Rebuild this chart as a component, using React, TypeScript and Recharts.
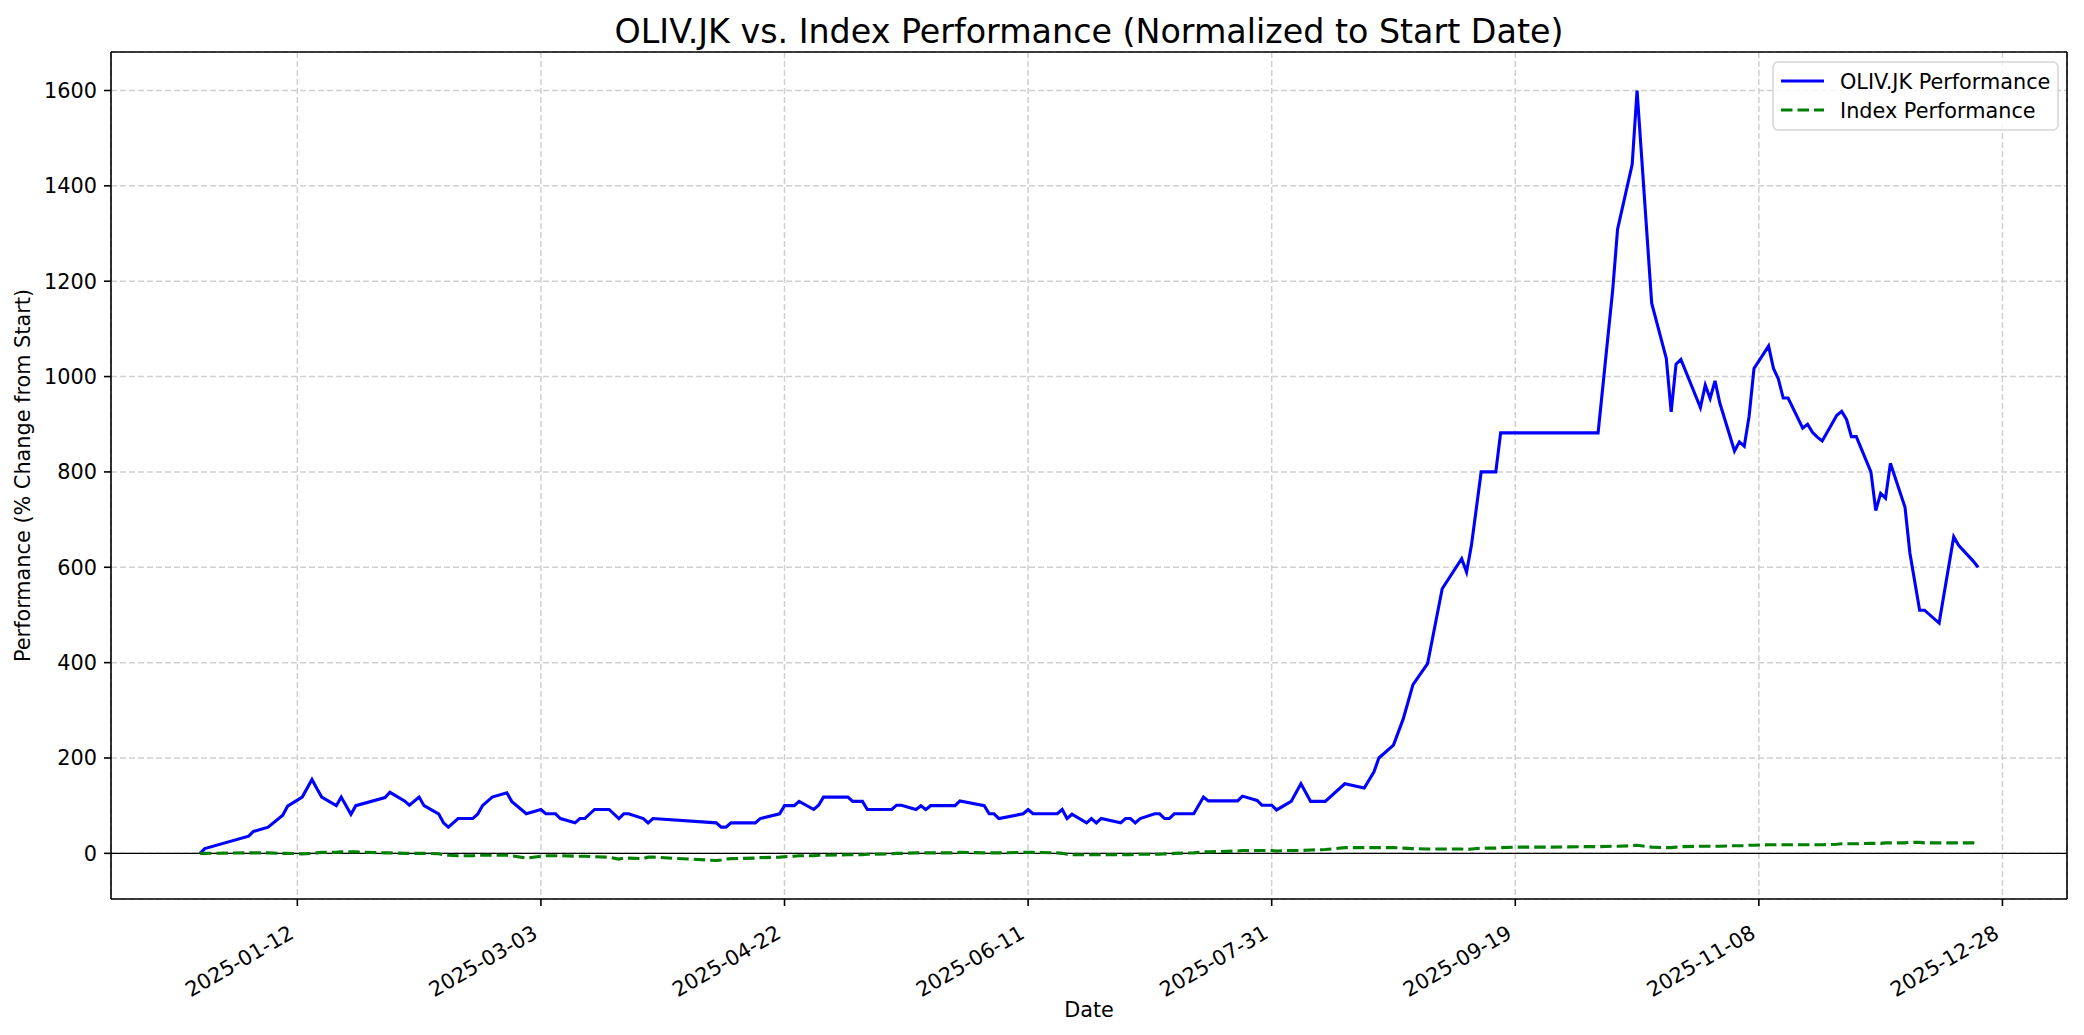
import { LineChart, Line, XAxis, YAxis, CartesianGrid, ReferenceLine } from "recharts";

const dates = [
  "2024-12-23", "2024-12-24", "2025-01-02", "2025-01-03", "2025-01-06", "2025-01-09", "2025-01-10",
  "2025-01-13", "2025-01-15", "2025-01-16", "2025-01-17", "2025-01-20", "2025-01-21", "2025-01-23",
  "2025-01-24", "2025-01-30", "2025-01-31", "2025-02-03", "2025-02-04", "2025-02-06", "2025-02-07",
  "2025-02-10", "2025-02-11", "2025-02-12", "2025-02-14", "2025-02-17", "2025-02-18", "2025-02-19",
  "2025-02-21", "2025-02-24", "2025-02-25", "2025-02-28", "2025-03-03", "2025-03-04", "2025-03-06",
  "2025-03-07", "2025-03-10", "2025-03-11", "2025-03-12", "2025-03-14", "2025-03-17", "2025-03-19",
  "2025-03-20", "2025-03-21", "2025-03-24", "2025-03-25", "2025-03-26", "2025-04-08", "2025-04-09",
  "2025-04-10", "2025-04-11", "2025-04-16", "2025-04-17", "2025-04-21", "2025-04-22", "2025-04-24",
  "2025-04-25", "2025-04-28", "2025-04-29", "2025-04-30", "2025-05-05", "2025-05-06", "2025-05-08",
  "2025-05-09", "2025-05-14", "2025-05-15", "2025-05-16", "2025-05-19", "2025-05-20", "2025-05-21",
  "2025-05-22", "2025-05-27", "2025-05-28", "2025-06-02", "2025-06-03", "2025-06-04", "2025-06-05",
  "2025-06-10", "2025-06-11", "2025-06-12", "2025-06-17", "2025-06-18", "2025-06-19", "2025-06-20",
  "2025-06-23", "2025-06-24", "2025-06-25", "2025-06-26", "2025-06-30", "2025-07-01", "2025-07-02",
  "2025-07-03", "2025-07-04", "2025-07-07", "2025-07-08", "2025-07-09", "2025-07-10", "2025-07-11",
  "2025-07-15", "2025-07-17", "2025-07-18", "2025-07-24", "2025-07-25", "2025-07-28", "2025-07-29",
  "2025-07-31", "2025-08-01", "2025-08-04", "2025-08-06", "2025-08-08", "2025-08-11", "2025-08-15",
  "2025-08-19", "2025-08-21", "2025-08-22", "2025-08-25", "2025-08-27", "2025-08-29", "2025-09-01",
  "2025-09-02", "2025-09-04", "2025-09-08", "2025-09-09", "2025-09-10", "2025-09-12", "2025-09-15",
  "2025-09-16", "2025-09-19", "2025-09-26", "2025-10-03", "2025-10-06", "2025-10-09", "2025-10-10",
  "2025-10-13", "2025-10-14", "2025-10-17", "2025-10-20", "2025-10-21", "2025-10-22", "2025-10-23",
  "2025-10-27", "2025-10-28", "2025-10-29", "2025-10-30", "2025-10-31", "2025-11-03", "2025-11-04",
  "2025-11-05", "2025-11-06", "2025-11-07", "2025-11-10", "2025-11-11", "2025-11-12", "2025-11-13",
  "2025-11-14", "2025-11-17", "2025-11-18", "2025-11-19", "2025-11-20", "2025-11-21", "2025-11-24",
  "2025-11-25", "2025-11-26", "2025-11-27", "2025-11-28", "2025-12-01", "2025-12-02", "2025-12-03",
  "2025-12-04", "2025-12-05", "2025-12-08", "2025-12-09", "2025-12-11", "2025-12-12", "2025-12-15",
  "2025-12-18", "2025-12-19", "2025-12-22", "2025-12-23",
];

const olivPerf = [
  0, 10, 36, 46, 55, 80, 99,
  118, 155, 136, 118, 100, 118, 82,
  100, 117, 128, 110, 101, 118, 100,
  83, 64, 55, 73, 73, 82, 100,
  118, 127, 109, 83, 92, 83, 83,
  73, 64, 73, 73, 92, 92, 73,
  83, 83, 73, 64, 73, 64, 55,
  55, 64, 64, 73, 83, 100, 100,
  109, 92, 101, 118, 118, 109, 109,
  92, 92, 101, 101, 92, 100, 92,
  100, 100, 110, 100, 83, 83, 73,
  83, 92, 83, 83, 92, 73, 82,
  64, 73, 64, 73, 64, 73, 73,
  64, 73, 83, 83, 73, 73, 83,
  83, 118, 110, 110, 120, 111, 101,
  101, 91, 109, 146, 109, 109, 146,
  137, 171, 200, 227, 282, 354, 398,
  450, 555, 618, 590, 646, 800, 800,
  882, 882, 882, 882, 882, 1182, 1309,
  1445, 1600, 1154, 1038, 926, 1026, 1036,
  935, 982, 954, 991, 944, 844, 863,
  854, 917, 1017, 1064, 1017, 995, 955,
  955, 892, 900, 883, 873, 865, 919,
  927, 910, 874, 874, 800, 719, 755,
  745, 818, 726, 630, 510, 510, 483,
  664, 646, 613, 600,
];

const indexPerf = [
  0, 0, 1, 1, 1, 0, 0,
  -1, 0, 1, 2, 2, 3, 3,
  3, 1, 1, 0, 0, 0, 0,
  -1, -3, -4, -5, -5, -4, -4,
  -4, -4, -5, -10, -6, -5, -5,
  -5, -6, -6, -6, -7, -8, -12,
  -10, -10, -11, -8, -8, -15, -14,
  -12, -11, -10, -9, -8, -7, -6,
  -5, -5, -4, -4, -3, -3, -3,
  -2, -1, 0, 0, 1, 1, 1,
  1, 1, 2, 1, 1, 1, 1,
  2, 2, 2, 1, 0, -2, -3,
  -3, -3, -3, -3, -3, -3, -3,
  -2, -2, -2, -2, -1, -1, 0,
  1, 3, 3, 5, 6, 6, 6,
  6, 5, 6, 6, 7, 8, 12,
  12, 12, 12, 12, 11, 10, 9,
  9, 9, 9, 8, 9, 11, 11,
  12, 13, 13, 14, 14, 15, 15,
  16, 17, 13, 12, 12, 13, 14,
  15, 15, 15, 15, 15, 16, 16,
  16, 17, 17, 18, 18, 18, 18,
  18, 18, 18, 18, 18, 18, 19,
  20, 20, 20, 20, 21, 21, 21,
  22, 22, 22, 23, 23, 22, 22,
  22, 22, 22, 22,
];

const xTickDates = ["2025-01-12", "2025-03-03", "2025-04-22", "2025-06-11", "2025-07-31", "2025-09-19", "2025-11-08", "2025-12-28"];
const yTicks = [0, 200, 400, 600, 800, 1000, 1200, 1400, 1600];

const FONT = "DejaVu Sans, Verdana, sans-serif";
const BASE = Date.UTC(2025, 0, 12);
const DAY = 86400000;
const toDay = (s: string) => {
  const [y, m, d] = s.split("-").map(Number);
  return (Date.UTC(y, m - 1, d) - BASE) / DAY;
};
const fmtDay = (v: number) => new Date(BASE + Math.round(v) * DAY).toISOString().slice(0, 10);

const data = dates.map((s, i) => ({ d: toDay(s), oliv: olivPerf[i], index: indexPerf[i] }));
const xTicks = xTickDates.map(toDay);

const X_MIN = -38.25;
const X_MAX = 363.25;
const Y_MIN = -95.75;
const Y_MAX = 1680.75;

const XTick = ({ x, y, payload }: any) => {
  const bx = x - 2;
  const by = y + 29;
  return (
    <text x={bx} y={by} transform={`rotate(-30, ${bx}, ${by})`} textAnchor="end"
      fontSize={20.8} fontFamily={FONT} fill="#000">
      {fmtDay(payload.value)}
    </text>
  );
};

export default function App() {
  return (
    <div style={{ position: "relative", width: 2084, height: 1035, margin: -8, background: "#fff" }}>
      <LineChart width={2084} height={1035} data={data}
        margin={{ top: 52, right: 17, bottom: 36, left: 51 }}>
        <CartesianGrid stroke="#d0d0d0" strokeWidth={1.5} strokeDasharray="6 3" />
        <XAxis dataKey="d" type="number" domain={[X_MIN, X_MAX]} ticks={xTicks} allowDataOverflow
          height={100} tickSize={7} tick={<XTick />} interval={0}
          axisLine={{ stroke: "#000", strokeWidth: 1.6 }} tickLine={{ stroke: "#000", strokeWidth: 1.6 }} />
        <YAxis type="number" domain={[Y_MIN, Y_MAX]} ticks={yTicks} allowDataOverflow width={60}
          tickSize={7} tickMargin={7} interval={0}
          tick={{ fontSize: 20.8, fill: "#000", fontFamily: FONT }}
          axisLine={{ stroke: "#000", strokeWidth: 1.6 }} tickLine={{ stroke: "#000", strokeWidth: 1.6 }} />
        <ReferenceLine y={0} stroke="#000" strokeWidth={1.3} />
        <ReferenceLine y={Y_MAX} stroke="#000" strokeWidth={1.6} />
        <ReferenceLine x={X_MAX} stroke="#000" strokeWidth={1.6} />
        <Line dataKey="oliv" stroke="#0000ff" strokeWidth={3.1} dot={false} type="linear" isAnimationActive={false} />
        <Line dataKey="index" stroke="#008000" strokeWidth={3.1} strokeDasharray="11.5 5" dot={false} type="linear" isAnimationActive={false} />
      </LineChart>
      <svg width={2084} height={1035} style={{ position: "absolute", left: 0, top: 0, pointerEvents: "none" }}>
        <text x={1089} y={43} textAnchor="middle" fontSize={33.3} fontFamily={FONT} fill="#000">
          OLIV.JK vs. Index Performance (Normalized to Start Date)
        </text>
        <text x={30} y={475.5} transform="rotate(-90, 30, 475.5)" textAnchor="middle" fontSize={20.8} fontFamily={FONT} fill="#000">
          Performance (% Change from Start)
        </text>
        <text x={1089} y={1017} textAnchor="middle" fontSize={20.8} fontFamily={FONT} fill="#000">
          Date
        </text>
        <rect x={1773} y={62} width={285} height={68} rx={5} fill="rgba(255,255,255,0.8)" stroke="#d5d5d5" strokeWidth={1.5} />
        <line x1={1781} x2={1824} y1={81} y2={81} stroke="#0000ff" strokeWidth={3.1} />
        <text x={1840} y={88.5} fontSize={20.8} fontFamily={FONT} fill="#000">OLIV.JK Performance</text>
        <line x1={1781} x2={1824} y1={110} y2={110} stroke="#008000" strokeWidth={3.1} strokeDasharray="11.5 5" />
        <text x={1840} y={117.5} fontSize={20.8} fontFamily={FONT} fill="#000">Index Performance</text>
      </svg>
    </div>
  );
}
